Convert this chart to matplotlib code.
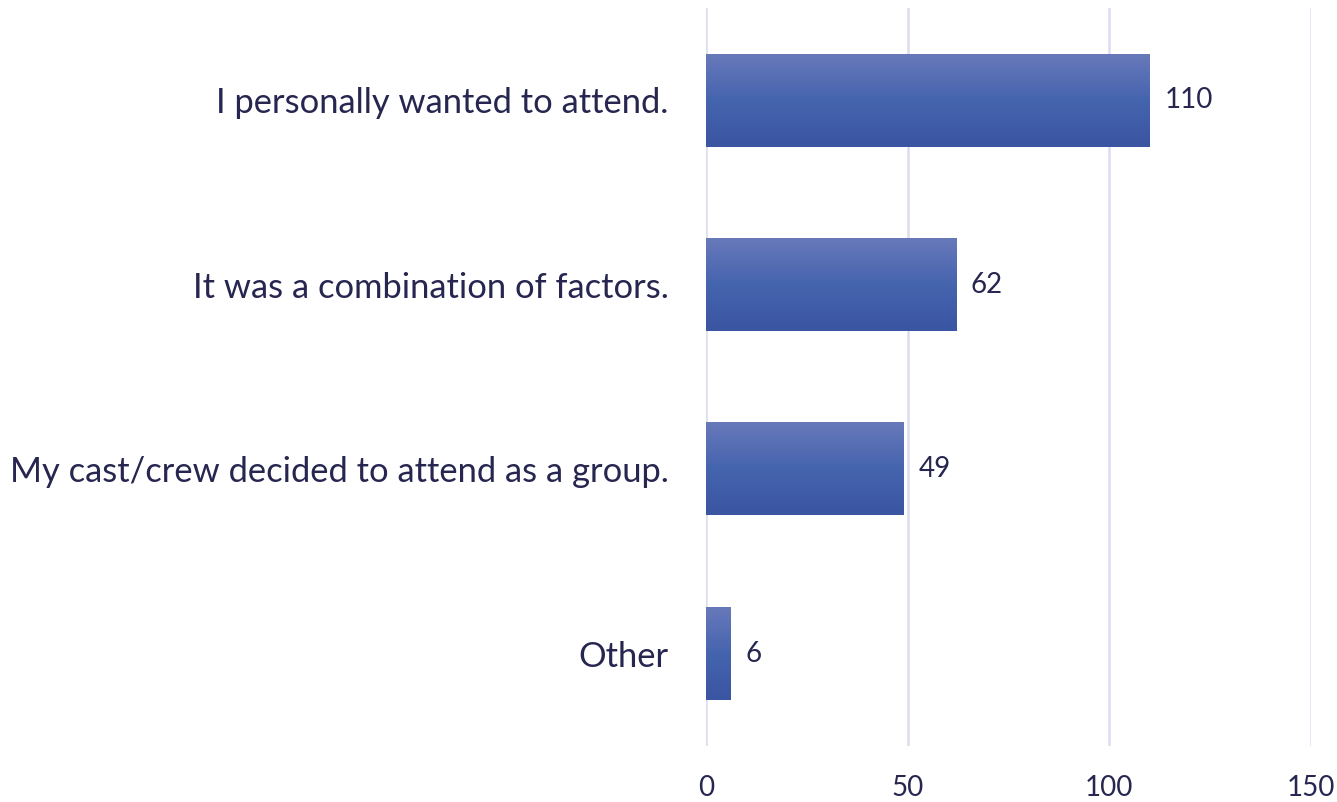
import matplotlib
matplotlib.use("Agg")
import matplotlib.pyplot as plt
import numpy as np
from matplotlib.colors import LinearSegmentedColormap

categories = ["I personally wanted to attend.",
              "It was a combination of factors.",
              "My cast/crew decided to attend as a group.",
              "Other"]
values = [110, 62, 49, 6]
xticks = [0, 50, 100, 150]

plt.rcParams['font.family'] = ['Lato', 'DejaVu Sans']
text_col = '#262650'

fig = plt.figure(figsize=(13.37, 8.02), dpi=100)
ax = fig.add_axes([0.528, 0.0698, 0.4526, 0.920])

y = np.arange(len(categories))
bars = ax.barh(y, values, height=0.5, color='none', zorder=3)

# vertical gradient fill for each bar
cmap = LinearSegmentedColormap.from_list('g', ['#6879BA', '#4564AE', '#3A55A2'])
grad = np.linspace(0, 1, 256).reshape(-1, 1)
for b in bars:
    x0, y0 = b.get_x(), b.get_y()
    w, h = b.get_width(), b.get_height()
    ax.imshow(grad, cmap=cmap, aspect='auto', extent=(x0, x0 + w, y0 + h, y0),
              zorder=3, interpolation='bicubic')
ax.set_xlim(0, 150)
ax.set_ylim(len(categories) - 0.5, -0.5)

for yi, v in zip(y, values):
    ax.text(v + 3.7, yi, str(v), va='center', ha='left', fontsize=20, color=text_col)

ax.set_yticks(y)
ax.set_yticklabels(categories, fontsize=24.8, color=text_col)
ax.set_xticks(xticks)
ax.set_xticklabels([str(t) for t in xticks], fontsize=20, color=text_col)
ax.tick_params(axis='y', length=0, pad=27)
ax.tick_params(axis='x', length=0, pad=21)
ax.grid(axis='x', color='#DCDDF0', linewidth=1.8, zorder=0)
for s in ax.spines.values():
    s.set_visible(False)

fig.savefig("out.png", dpi=100)
